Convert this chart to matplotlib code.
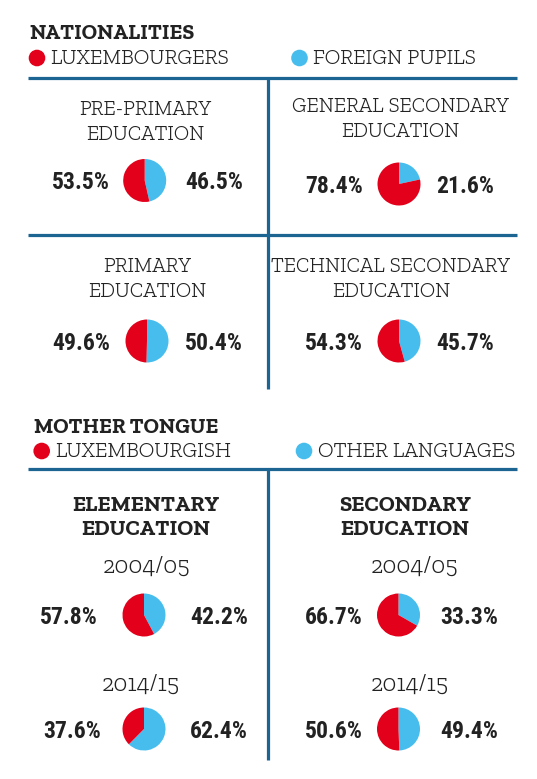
import matplotlib
matplotlib.use("Agg")
import matplotlib.pyplot as plt
from matplotlib.patches import Circle

# ---------------- data ----------------
nat_titles = ["PRE-PRIMARY\nEDUCATION", "GENERAL SECONDARY\nEDUCATION",
              "PRIMARY\nEDUCATION", "TECHNICAL SECONDARY\nEDUCATION"]
nat_lux = [53.5, 78.4, 49.6, 54.3]
nat_foreign = [46.5, 21.6, 50.4, 45.7]
nat_legend = ["LUXEMBOURGERS", "FOREIGN PUPILS"]

mt_titles = ["ELEMENTARY\nEDUCATION", "SECONDARY\nEDUCATION"]
mt_years = ["2004/05", "2014/15"]
mt_lux = [[57.8, 37.6], [66.7, 50.6]]
mt_other = [[42.2, 62.4], [33.3, 49.4]]
mt_legend = ["LUXEMBOURGISH", "OTHER LANGUAGES"]

section_titles = ["NATIONALITIES", "MOTHER TONGUE"]

# ---------------- style ----------------
RED = "#e2001a"
BLUE = "#47bdee"
LINE = "#1c6592"
DARK = "#222222"
W, H = 537, 779
LIGHT = dict(family="Zilla Slab", weight=300, color=DARK)
HEAD = dict(family="Zilla Slab", weight=700, color=DARK)
NUM = dict(family="Roboto Condensed", weight=700, color=DARK)

fig = plt.figure(figsize=(W / 100, H / 100), dpi=100)
bg = fig.add_axes([0, 0, 1, 1])
bg.set_xlim(0, W)
bg.set_ylim(H, 0)
bg.axis("off")


def pie(cx, cy, lux, other, r=21.5):
    ax = fig.add_axes([(cx - r) / W, 1 - (cy + r) / H, 2 * r / W, 2 * r / H])
    ax.pie([other, lux], colors=[BLUE, RED], startangle=90, counterclock=False,
           radius=1, wedgeprops=dict(linewidth=0))
    ax.set_xlim(-1, 1)
    ax.set_ylim(-1, 1)
    ax.set_aspect("auto")
    ax.axis("off")


def hline(y, x0=28, x1=517):
    bg.plot([x0, x1], [y, y], color=LINE, lw=2.3, solid_capstyle="butt")


def vline(x, y0, y1):
    bg.plot([x, x], [y0, y1], color=LINE, lw=2.3, solid_capstyle="butt")


def legend(y, x_red, x_blue, labels):
    for x, c, lab in [(x_red, RED, labels[0]), (x_blue, BLUE, labels[1])]:
        bg.add_patch(Circle((x, y), 8.3, color=c, lw=0))
        bg.text(x + 13.5, y + 0.5, lab, ha="left", va="center", fontsize=15.3, **LIGHT)


def pct(x, y, v):
    bg.text(x, y, f"{v:.1f}%", ha="center", va="center", fontsize=17, **NUM)


# ---------------- NATIONALITIES ----------------
bg.text(29, 33.5, section_titles[0], ha="left", va="center", fontsize=15.5, **HEAD)
legend(58, 37, 299.5, nat_legend)
hline(77.5)
hline(235)
vline(267.5, 77.5, 389)

cells = [  # (title x, title y1, pie x, pie y, left num x, right num x)
    (145.5, 110, 144.7, 180.5, 81, 214),
    (400.5, 106.5, 399, 184, 334, 465),
    (147, 267, 147, 341, 81, 214),
    (391, 267, 399, 341, 334, 465),
]
for i, (tx, ty, px, py, lx, rx) in enumerate(cells):
    l1, l2 = nat_titles[i].split("\n")
    bg.text(tx, ty, l1, ha="center", va="center", fontsize=15, **LIGHT)
    bg.text(tx, ty + 25, l2, ha="center", va="center", fontsize=15, **LIGHT)
    pie(px, py, nat_lux[i], nat_foreign[i])
    pct(lx, py + 2, nat_lux[i])
    pct(rx, py + 2, nat_foreign[i])

# ---------------- MOTHER TONGUE ----------------
bg.text(34, 427.5, section_titles[1], ha="left", va="center", fontsize=15.5, **HEAD)
legend(451, 41.7, 304, mt_legend)
hline(468.5)
vline(267.5, 468.5, 760)

cols = [  # (title x, [year x], pie x, left num xs, right num x)
    (145.5, [147, 141], 144, [68.5, 72.6], 219),
    (405, [415, 410], 398.5, [334, 334], 469),
]
year_y = [567, 685]
pie_y = [615, 729]
for j, (tx, yxs, px, lxs, rx) in enumerate(cols):
    l1, l2 = mt_titles[j].split("\n")
    bg.text(tx, 505.5, l1, ha="center", va="center", fontsize=16, **HEAD)
    bg.text(tx, 530, l2, ha="center", va="center", fontsize=16, **HEAD)
    for k in range(2):
        bg.text(yxs[k], year_y[k], mt_years[k], ha="center", va="center", fontsize=17.5, **LIGHT)
        pie(px, pie_y[k], mt_lux[j][k], mt_other[j][k])
        pct(lxs[k], pie_y[k] + 2, mt_lux[j][k])
        pct(rx, pie_y[k] + 2, mt_other[j][k])

fig.savefig("out.png", dpi=100, facecolor="white")
